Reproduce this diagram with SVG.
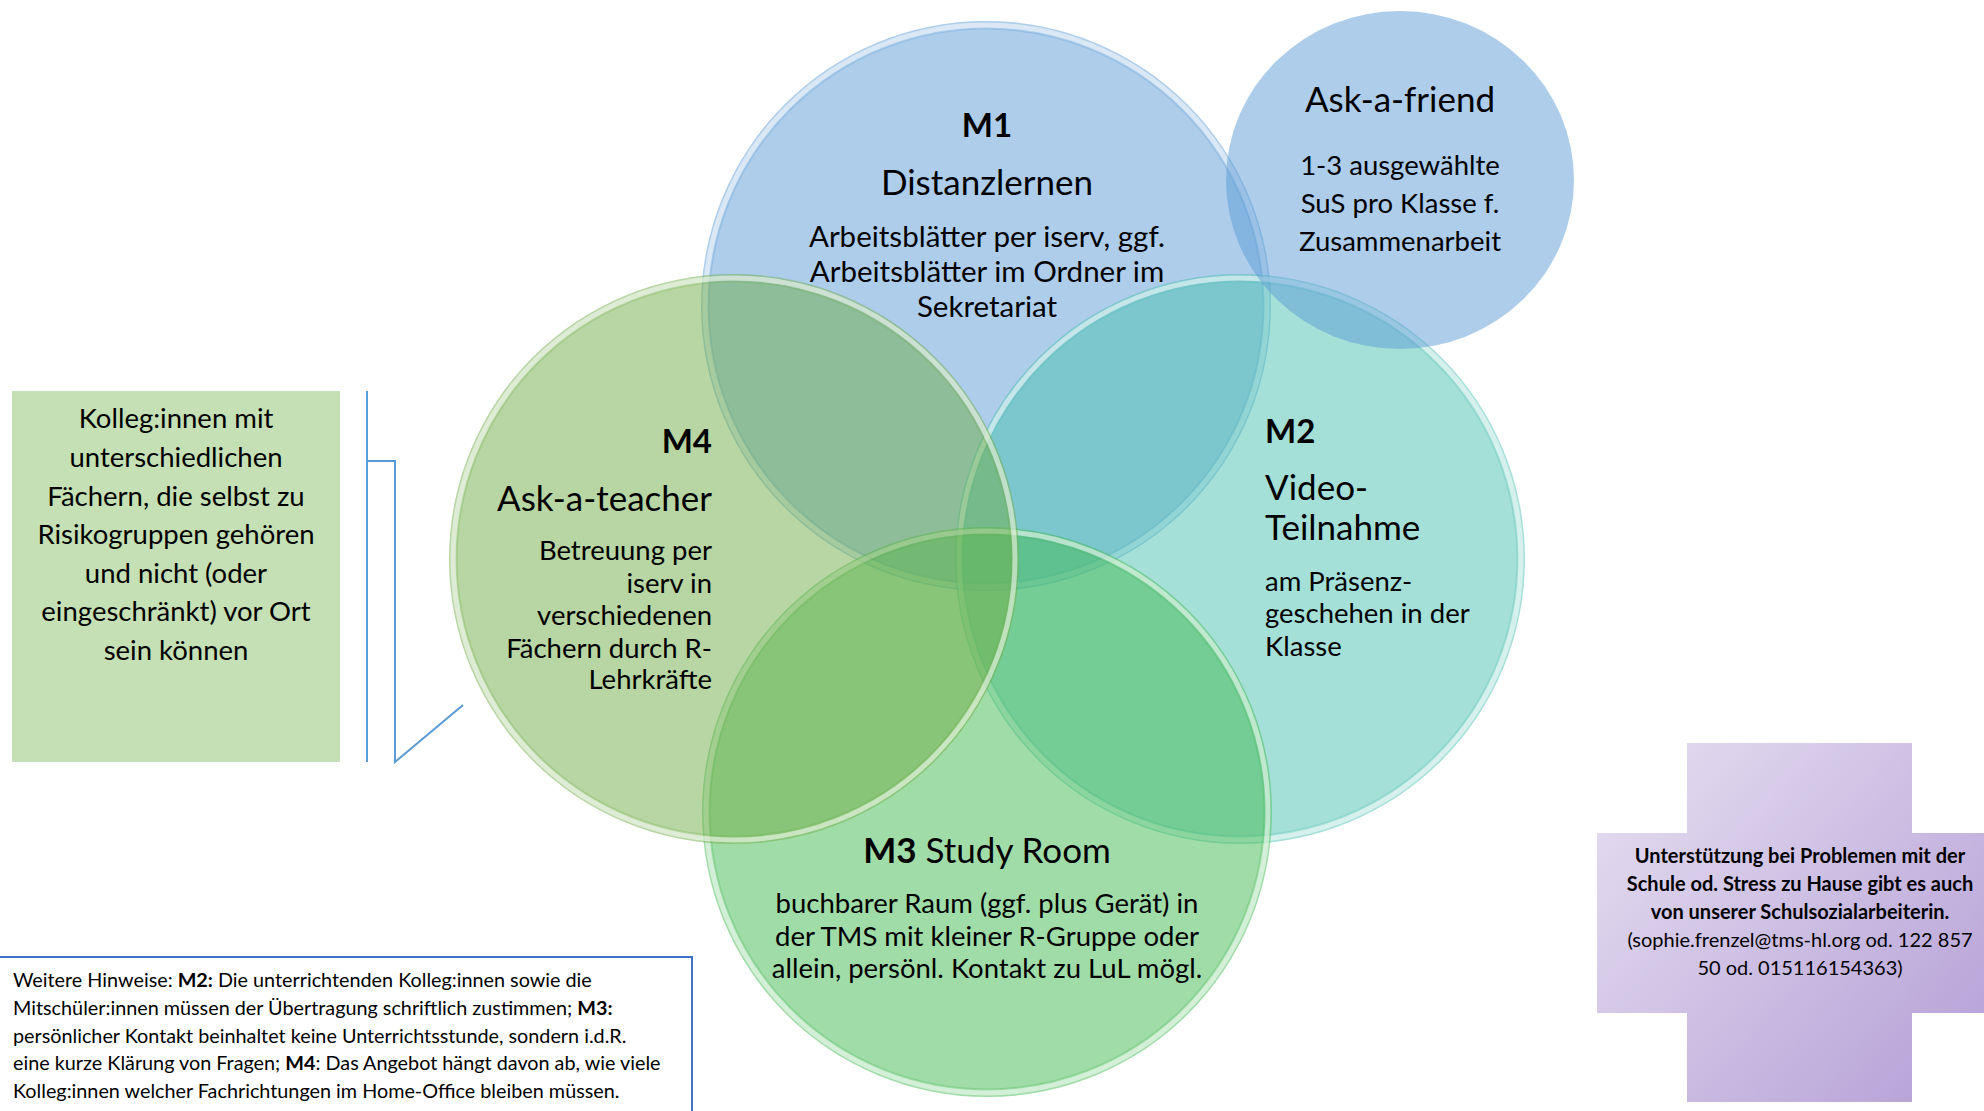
<svg xmlns="http://www.w3.org/2000/svg" width="1984" height="1111" viewBox="0 0 1984 1111">
<defs>
<style>
text { font-family: Lato, "Open Sans", "Liberation Sans", sans-serif; fill: #000000; }
.b { font-weight: 700; }
.lbl { font-size: 33px; font-weight: 700; }
.ttl { font-size: 35px; }
.body { font-size: 27.5px; }
.body1 { font-size: 29.5px; }
.note { font-size: 19.8px; }
.cross { font-size: 20px; }
.mid { text-anchor: middle; }
.end { text-anchor: end; }
.disc { fill-opacity: 0.5; stroke: none; }
.rim { fill: none; stroke: #ffffff; stroke-opacity: 0.55; stroke-width: 5; }
.edge { fill: none; stroke-width: 1.2; stroke-opacity: 0.3; }
.link { fill: none; stroke: #5B9BD5; stroke-width: 2; }
</style>
<linearGradient id="crossGrad" gradientUnits="userSpaceOnUse" x1="1597" y1="743" x2="2002" y2="1102">
<stop offset="0" stop-color="#E6E0F1"/>
<stop offset="1" stop-color="#B39CD5"/>
</linearGradient>
</defs>
<rect x="0" y="0" width="1984" height="1111" fill="#ffffff"/>

<g id="node-m1">
<circle class="disc" cx="986" cy="306" r="285" fill="#5B9BD5"/>
<circle class="rim" cx="986" cy="306" r="281"/>
<circle class="edge" cx="986" cy="306" r="277" stroke="#5B9BD5"/>
<text class="lbl mid" x="987" y="137">M1</text>
<text class="ttl mid" x="987" y="195">Distanzlernen</text>
<text class="body1 mid" x="987" y="247">Arbeitsblätter per iserv, ggf.</text>
<text class="body1 mid" x="987" y="282">Arbeitsblätter im Ordner im</text>
<text class="body1 mid" x="987" y="317">Sekretariat</text>
</g>

<g id="node-m2">
<circle class="disc" cx="1240" cy="559" r="285" fill="#4BC1B1"/>
<circle class="rim" cx="1240" cy="559" r="281"/>
<circle class="edge" cx="1240" cy="559" r="277" stroke="#4BC1B1"/>
<text class="lbl" x="1265" y="443">M2</text>
<text class="ttl" x="1265" y="500">Video-</text>
<text class="ttl" x="1265" y="540">Teilnahme</text>
<text class="body" x="1265" y="591">am Präsenz-</text>
<text class="body" x="1265" y="623">geschehen in der</text>
<text class="body" x="1265" y="656">Klasse</text>
</g>

<g id="node-m3">
<circle class="disc" cx="987" cy="812" r="285" fill="#41B951"/>
<circle class="rim" cx="987" cy="812" r="281"/>
<circle class="edge" cx="987" cy="812" r="277" stroke="#41B951"/>
<text class="ttl mid" x="987" y="863"><tspan class="b">M3</tspan> Study Room</text>
<text class="body mid" x="987" y="913">buchbarer Raum (ggf. plus Gerät) in</text>
<text class="body mid" x="987" y="946">der TMS mit kleiner R-Gruppe oder</text>
<text class="body mid" x="987" y="978">allein, persönl. Kontakt zu LuL mögl.</text>
</g>

<g id="node-m4">
<circle class="disc" cx="734" cy="559" r="285" fill="#70AD47"/>
<circle class="rim" cx="734" cy="559" r="281"/>
<circle class="edge" cx="734" cy="559" r="277" stroke="#70AD47"/>
<text class="lbl end" x="712" y="453">M4</text>
<text class="ttl end" x="712" y="511">Ask-a-teacher</text>
<text class="body end" x="712" y="560">Betreuung per</text>
<text class="body end" x="712" y="593">iserv in</text>
<text class="body end" x="712" y="625">verschiedenen</text>
<text class="body end" x="712" y="658">Fächern durch R-</text>
<text class="body end" x="712" y="689">Lehrkräfte</text>
</g>

<g id="node-ask">
<ellipse class="disc" cx="1400" cy="180" rx="174" ry="169" fill="#5B9BD5"/>
<text class="ttl mid" x="1400" y="112">Ask-a-friend</text>
<text class="body mid" x="1400" y="175">1-3 ausgewählte</text>
<text class="body mid" x="1400" y="213">SuS pro Klasse f.</text>
<text class="body mid" x="1400" y="251">Zusammenarbeit</text>
</g>

<g id="node-left-note">
<rect x="12" y="391" width="328" height="371" fill="#C5E0B4"/>
<text class="body mid" x="176" y="428">Kolleg:innen mit</text>
<text class="body mid" x="176" y="467">unterschiedlichen</text>
<text class="body mid" x="176" y="506">Fächern, die selbst zu</text>
<text class="body mid" x="176" y="544">Risikogruppen gehören</text>
<text class="body mid" x="176" y="583">und nicht (oder</text>
<text class="body mid" x="176" y="621">eingeschränkt) vor Ort</text>
<text class="body mid" x="176" y="660">sein können</text>
</g>

<g id="connectors">
<line class="link" x1="367" y1="391" x2="367" y2="762"/>
<polyline class="link" points="367,461 395,461 395,762 463,705"/>
</g>

<g id="node-bottom-note">
<rect x="-3" y="957" width="695" height="170" fill="#ffffff" stroke="#4472C4" stroke-width="2"/>
<text class="note" x="13" y="987">Weitere Hinweise: <tspan class="b">M2:</tspan> Die unterrichtenden Kolleg:innen sowie die</text>
<text class="note" x="13" y="1015">Mitschüler:innen müssen der Übertragung schriftlich zustimmen; <tspan class="b">M3:</tspan></text>
<text class="note" x="13" y="1043">persönlicher Kontakt beinhaltet keine Unterrichtsstunde, sondern i.d.R.</text>
<text class="note" x="13" y="1070">eine kurze Klärung von Fragen; <tspan class="b">M4</tspan>: Das Angebot hängt davon ab, wie viele</text>
<text class="note" x="13" y="1098">Kolleg:innen welcher Fachrichtungen im Home-Office bleiben müssen.</text>
</g>

<g id="node-cross">
<path d="M1687,743 H1912 V833 H2002 V1013 H1912 V1102 H1687 V1013 H1597 V833 H1687 Z" fill="url(#crossGrad)"/>
<text class="cross b mid" x="1800" y="863">Unterstützung bei Problemen mit der</text>
<text class="cross b mid" x="1800" y="891">Schule od. Stress zu Hause gibt es auch</text>
<text class="cross b mid" x="1800" y="919">von unserer Schulsozialarbeiterin.</text>
<text class="cross mid" x="1800" y="947">(sophie.frenzel@tms-hl.org od. 122 857</text>
<text class="cross mid" x="1800" y="975">50 od. 015116154363)</text>
</g>
</svg>
